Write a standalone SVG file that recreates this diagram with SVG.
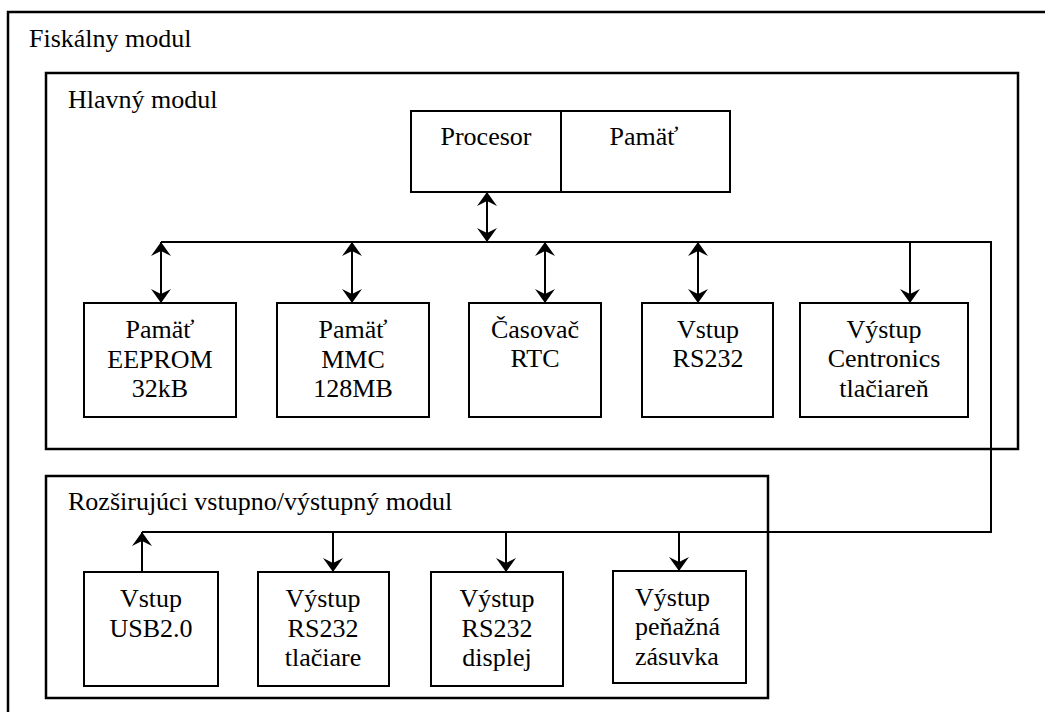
<svg xmlns="http://www.w3.org/2000/svg" width="1045" height="712" viewBox="0 0 1045 712">
  <style>
    .frame { fill: none; stroke: #000; stroke-width: 2.5; }
    .box { fill: #fff; stroke: #000; stroke-width: 2; }
    .wire { fill: none; stroke: #000; stroke-width: 2; }
    .lbl { font-family: 'Liberation Serif', 'Times New Roman', serif; font-size: 26px; fill: #000; }
    .c { text-anchor: middle; }
  </style>
  <defs>
    <marker id="head" viewBox="0 0 14 20" refX="14" refY="10" markerWidth="14" markerHeight="20" markerUnits="userSpaceOnUse" orient="auto-start-reverse">
      <path d="M14,10 L0,0 L5,10 L0,20 Z" fill="#000"/>
    </marker>
  </defs>
  <rect width="1045" height="712" fill="#fff"/>

  <!-- outer fiscal module frame (runs past the page edge) -->
  <g id="fiskalny-modul">
    <rect class="frame" x="8" y="12" width="1050" height="720"/>
    <text class="lbl" x="29" y="47">Fiskálny modul</text>
  </g>

  <g id="hlavny-modul">
    <rect class="frame" x="46" y="73" width="972" height="376"/>
    <text class="lbl" x="68" y="108">Hlavný modul</text>
  </g>

  <g id="rozsirujuci-modul">
    <rect class="frame" x="46" y="476" width="722" height="222"/>
    <text class="lbl" x="68" y="510">Rozširujúci vstupno/výstupný modul</text>
  </g>

  <g id="procesor">
    <rect class="box" x="411" y="111" width="150" height="81"/>
    <text class="lbl c" x="486" y="145">Procesor</text>
  </g>
  <g id="pamat">
    <rect class="box" x="561" y="111" width="169" height="81"/>
    <text class="lbl c" x="644" y="145">Pamäť</text>
  </g>

  <g id="eeprom">
    <rect class="box" x="84" y="303" width="152" height="114"/>
    <text class="lbl c" x="160" y="338">Pamäť</text>
    <text class="lbl c" x="160" y="368">EEPROM</text>
    <text class="lbl c" x="160" y="397">32kB</text>
  </g>
  <g id="mmc">
    <rect class="box" x="277" y="303" width="152" height="114"/>
    <text class="lbl c" x="353" y="338">Pamäť</text>
    <text class="lbl c" x="353" y="368">MMC</text>
    <text class="lbl c" x="353" y="397">128MB</text>
  </g>
  <g id="casovac">
    <rect class="box" x="469" y="303" width="132" height="114"/>
    <text class="lbl c" x="535" y="338">Časovač</text>
    <text class="lbl c" x="535" y="367">RTC</text>
  </g>
  <g id="vstup-rs232">
    <rect class="box" x="642" y="303" width="131" height="114"/>
    <text class="lbl c" x="708" y="338">Vstup</text>
    <text class="lbl c" x="708" y="367">RS232</text>
  </g>
  <g id="vystup-centronics">
    <rect class="box" x="800" y="303" width="168" height="114"/>
    <text class="lbl c" x="884" y="338">Výstup</text>
    <text class="lbl c" x="884" y="367">Centronics</text>
    <text class="lbl c" x="884" y="397">tlačiareň</text>
  </g>

  <g id="vstup-usb">
    <rect class="box" x="84" y="572" width="134" height="114"/>
    <text class="lbl c" x="151" y="607">Vstup</text>
    <text class="lbl c" x="151" y="637">USB2.0</text>
  </g>
  <g id="vystup-tlaciare">
    <rect class="box" x="258" y="572" width="131" height="114"/>
    <text class="lbl c" x="323" y="607">Výstup</text>
    <text class="lbl c" x="323" y="637">RS232</text>
    <text class="lbl c" x="323" y="666">tlačiare</text>
  </g>
  <g id="vystup-displej">
    <rect class="box" x="431" y="572" width="132" height="114"/>
    <text class="lbl c" x="497" y="607">Výstup</text>
    <text class="lbl c" x="497" y="637">RS232</text>
    <text class="lbl c" x="497" y="666">displej</text>
  </g>
  <g id="vystup-zasuvka">
    <rect class="box" x="613" y="571" width="133" height="112"/>
    <text class="lbl" x="635" y="606">Výstup</text>
    <text class="lbl" x="635" y="635">peňažná</text>
    <text class="lbl" x="635" y="665">zásuvka</text>
  </g>

  <g id="connectors">
    <!-- system bus -->
    <path class="wire" d="M161,242 H991 V532 H142"/>
    <!-- processor to bus -->
    <line class="wire" x1="487" y1="192" x2="487" y2="242" marker-start="url(#head)" marker-end="url(#head)"/>
    <!-- main module peripherals -->
    <line class="wire" x1="161" y1="242" x2="161" y2="303" marker-start="url(#head)" marker-end="url(#head)"/>
    <line class="wire" x1="352" y1="242" x2="352" y2="303" marker-start="url(#head)" marker-end="url(#head)"/>
    <line class="wire" x1="545" y1="242" x2="545" y2="303" marker-start="url(#head)" marker-end="url(#head)"/>
    <line class="wire" x1="698" y1="242" x2="698" y2="303" marker-start="url(#head)" marker-end="url(#head)"/>
    <line class="wire" x1="910" y1="242" x2="910" y2="303" marker-end="url(#head)"/>
    <!-- expansion module -->
    <line class="wire" x1="142" y1="572" x2="142" y2="532" marker-end="url(#head)"/>
    <line class="wire" x1="333" y1="532" x2="333" y2="572" marker-end="url(#head)"/>
    <line class="wire" x1="506" y1="532" x2="506" y2="572" marker-end="url(#head)"/>
    <line class="wire" x1="679" y1="532" x2="679" y2="571" marker-end="url(#head)"/>
  </g>
</svg>
